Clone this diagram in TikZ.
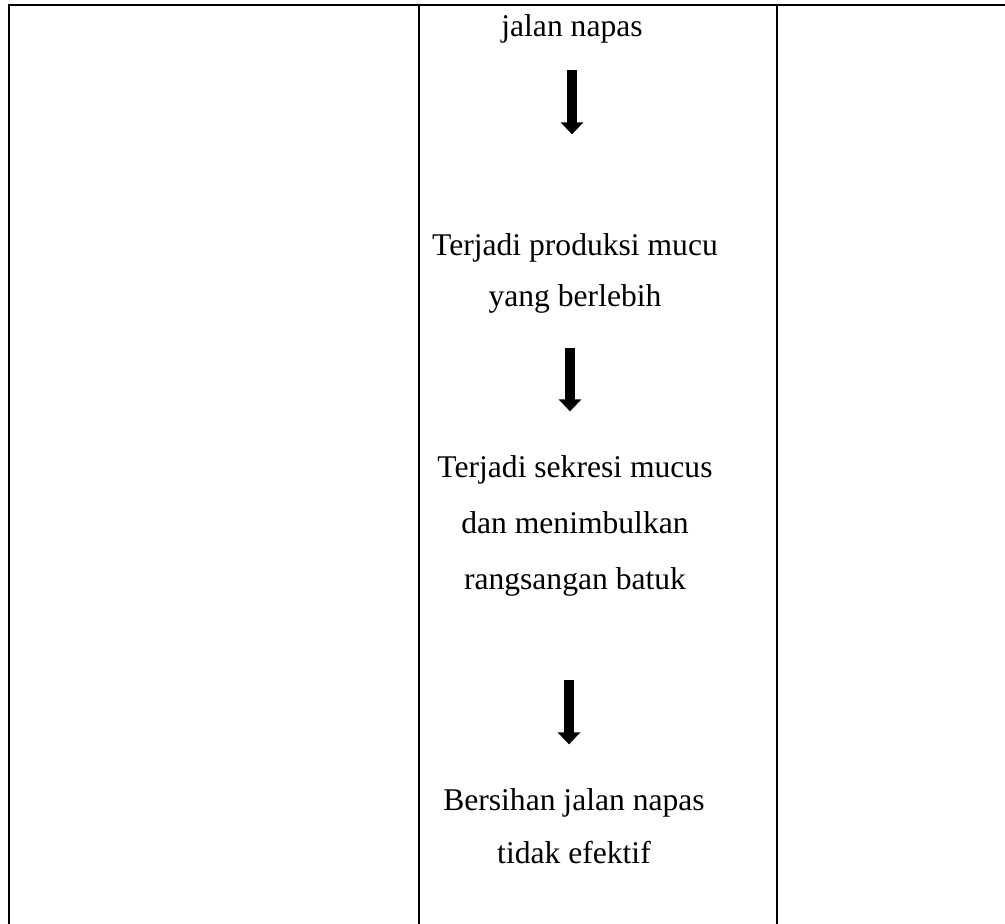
\documentclass[tikz,border=0pt]{standalone}
\usepackage{fontspec}
\setmainfont{Liberation Serif}
\usetikzlibrary{arrows.meta}
\tikzset{
  rule/.style={line width=2pt, line cap=rect},
  txt/.style={inner sep=0pt, align=center, font=\fontsize{31.6pt}{56pt}\selectfont, anchor=base},
  arr/.style={line width=10pt, -{Triangle[width=22pt,length=12pt]}},
}
\begin{document}
\begin{tikzpicture}[x=1pt,y=-1pt]
\useasboundingbox (0,0) rectangle (1005,924);
% table rules
\coordinate (tl) at (9,4.5);
\coordinate (tr) at (1005,4.5);
\draw[rule] (tl) -- (tr);
\draw[rule] (9,4.5) -- (9,924);
\draw[rule] (419,4.5) -- (419,924);
\draw[rule] (777,4.5) -- (777,924);
% texts (base anchor = baseline of the last line)
\node[txt] (n1) at (572,36) {jalan napas};
\node[txt] (n2) at (575,306) {Terjadi produksi mucu\\[-5pt]yang berlebih};
\node[txt] (n3) at (575,589) {Terjadi sekresi mucus\\dan menimbulkan\\rangsangan batuk};
\node[txt] (n4) at (574,863) {Bersihan jalan napas\\[-3pt]tidak efektif};
% arrows
\draw[arr, shorten <=27pt, shorten >=98.5pt] (n1.south) -- (n1.south |- n2.north);
\draw[arr, shorten <=35pt, shorten >=43.5pt] (570,0 |- n2.south) -- (570,0 |- n3.north);
\draw[arr, shorten <=84pt, shorten >=43.5pt] (569,0 |- n3.south) -- (569,0 |- n4.north);
\end{tikzpicture}
\end{document}
